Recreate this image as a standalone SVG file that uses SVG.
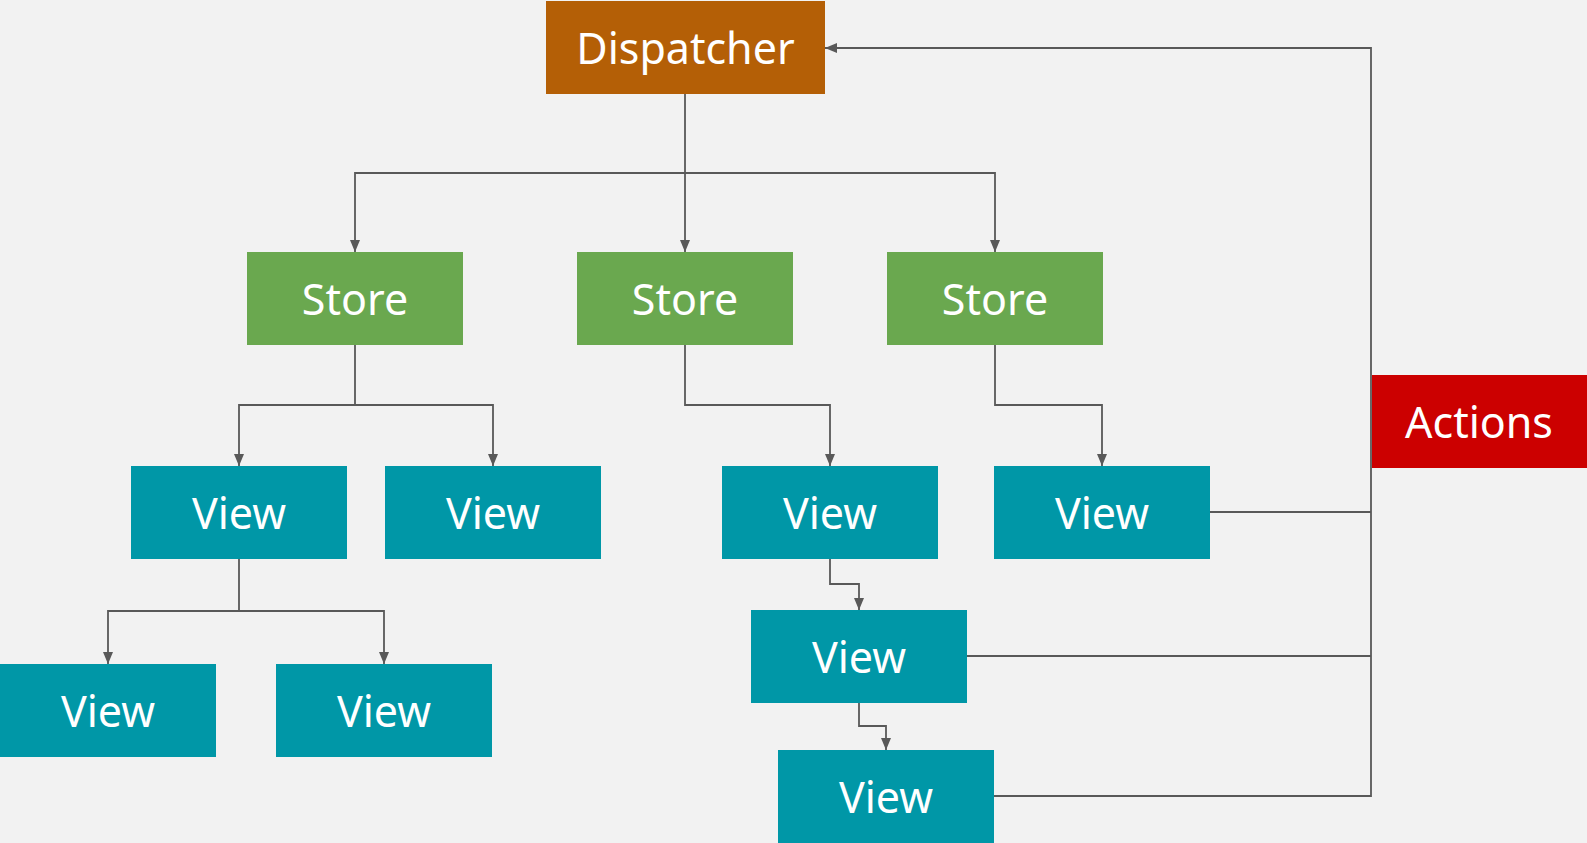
<svg xmlns="http://www.w3.org/2000/svg" width="1587" height="843" viewBox="0 0 1587 843">
<style>
.lbl{font-family:"Noto Sans","Open Sans",sans-serif;font-size:43px;fill:#FFFFFF;text-anchor:middle}
.view{fill:#0097A7}
.store{fill:#6AA84F}
.c{fill:none;stroke:#595959;stroke-width:1.8}
</style>
<defs>
<marker id="ah" markerUnits="userSpaceOnUse" markerWidth="12" markerHeight="12" viewBox="0 0 12 10" refX="12" refY="5" orient="auto">
<path d="M0,0 L12,5 L0,10 Z" fill="#595959"/>
</marker>
</defs>
<rect x="0" y="0" width="1587" height="843" fill="#F2F2F2"/>
<g id="connectors">
<path class="c" d="M685,94 V252" marker-end="url(#ah)"/>
<path class="c" d="M685,173 H355 V252" marker-end="url(#ah)"/>
<path class="c" d="M685,173 H995 V252" marker-end="url(#ah)"/>
<path class="c" d="M355,345 V405 H239 V466" marker-end="url(#ah)"/>
<path class="c" d="M355,405 H493 V466" marker-end="url(#ah)"/>
<path class="c" d="M685,345 V405 H830 V466" marker-end="url(#ah)"/>
<path class="c" d="M995,345 V405 H1102 V466" marker-end="url(#ah)"/>
<path class="c" d="M239,559 V611 H108 V664" marker-end="url(#ah)"/>
<path class="c" d="M239,611 H384 V664" marker-end="url(#ah)"/>
<path class="c" d="M830,559 V584 H859 V610" marker-end="url(#ah)"/>
<path class="c" d="M859,703 V726 H886 V750" marker-end="url(#ah)"/>
<path class="c" d="M1210,512 H1371"/>
<path class="c" d="M967,656 H1371"/>
<path class="c" d="M994,796 H1371 V48 H825" marker-end="url(#ah)"/>
</g>
<g id="dispatcher"><rect x="546" y="1" width="279" height="93" fill="#B45F06"/><text class="lbl" x="685.5" y="64">Dispatcher</text></g>
<g id="store1"><rect class="store" x="247" y="252" width="216" height="93"/><text class="lbl" x="355" y="315">Store</text></g>
<g id="store2"><rect class="store" x="577" y="252" width="216" height="93"/><text class="lbl" x="685" y="315">Store</text></g>
<g id="store3"><rect class="store" x="887" y="252" width="216" height="93"/><text class="lbl" x="995" y="315">Store</text></g>
<g id="actions"><rect x="1372" y="375" width="215" height="93" fill="#CC0000"/><text class="lbl" x="1479" y="438">Actions</text></g>
<g id="view1"><rect class="view" x="131" y="466" width="216" height="93"/><text class="lbl" x="239" y="529">View</text></g>
<g id="view2"><rect class="view" x="385" y="466" width="216" height="93"/><text class="lbl" x="493" y="529">View</text></g>
<g id="view3"><rect class="view" x="722" y="466" width="216" height="93"/><text class="lbl" x="830" y="529">View</text></g>
<g id="view4"><rect class="view" x="994" y="466" width="216" height="93"/><text class="lbl" x="1102" y="529">View</text></g>
<g id="view5"><rect class="view" x="0" y="664" width="216" height="93"/><text class="lbl" x="108" y="727">View</text></g>
<g id="view6"><rect class="view" x="276" y="664" width="216" height="93"/><text class="lbl" x="384" y="727">View</text></g>
<g id="view7"><rect class="view" x="751" y="610" width="216" height="93"/><text class="lbl" x="859" y="673">View</text></g>
<g id="view8"><rect class="view" x="778" y="750" width="216" height="93"/><text class="lbl" x="886" y="813">View</text></g>
</svg>
